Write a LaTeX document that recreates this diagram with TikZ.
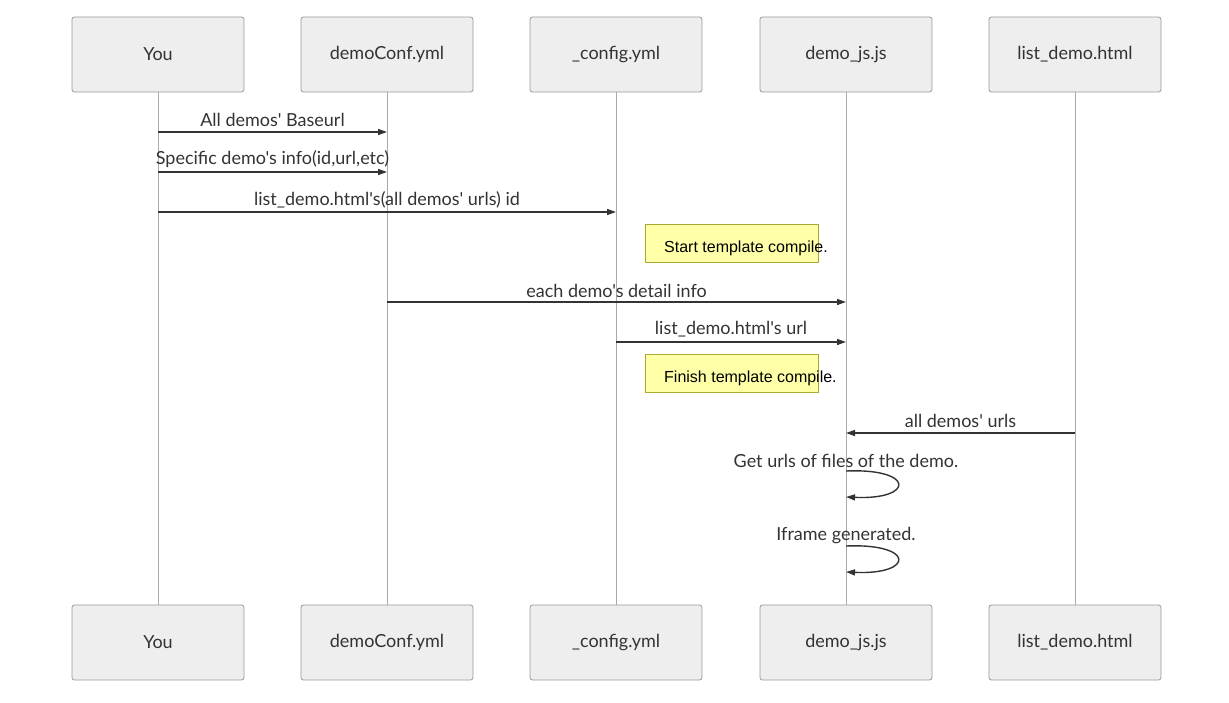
\documentclass[tikz,border=0pt]{standalone}
\usepackage{fontspec}
\setmainfont{Lato}[Ligatures=TeXOff]
\newfontfamily\notefont{Liberation Sans}
\usetikzlibrary{arrows.meta}
\definecolor{actfill}{HTML}{EEEEEE}
\definecolor{actline}{HTML}{999999}
\definecolor{lifeline}{HTML}{AAAAAA}
\definecolor{msgline}{HTML}{333333}
\definecolor{txt}{HTML}{333333}
\definecolor{notefill}{HTML}{FFFFA8}
\definecolor{noteline}{HTML}{AAAA33}
\tikzset{
  actor/.style={draw=actline, fill=actfill, rounded corners=2.5pt, line width=0.8pt,
    minimum width=172pt, minimum height=75pt, inner sep=0pt,
    font=\fontsize{18}{21}\selectfont, text=txt},
  life/.style={draw=lifeline, line width=0.9pt},
  msg/.style={draw=msgline, line width=1.4pt, -{Triangle[length=9pt,width=6pt]}},
  msglabel/.style={font=\fontsize{18}{21}\selectfont, text=txt, inner sep=0pt},
  notebox/.style={draw=noteline, fill=notefill, line width=0.8pt, minimum width=173pt,
    minimum height=38pt, inner sep=0pt},
  notetext/.style={font=\notefont\fontsize{16}{19}\selectfont, text=black, inner sep=0pt, anchor=west},
}
\begin{document}
\begin{tikzpicture}[x=1pt, y=-1pt]
\useasboundingbox (0,0) rectangle (1229,702);

% participants, top and bottom
\foreach \n/\x/\t in {you/158/You, conf/387/demoConf.yml, cfg/616/\_config.yml,
    js/846/demo\_js.js, list/1075/list\_demo.html} {
  \node[actor] (\n-top) at (\x,54.5) {\t};
  \node[actor] (\n-bot) at (\x,642.5) {\t};
}

% lifelines
\foreach \n in {you,conf,cfg,js,list}
  \draw[life] (\n-top.south) -- (\n-bot.north);

% message anchor points on the lifelines
\coordinate (m1a) at (158,132); \coordinate (m1b) at (387,132);
\coordinate (m2a) at (158,172); \coordinate (m2b) at (387,172);
\coordinate (m3a) at (158,212); \coordinate (m3b) at (616,212);
\coordinate (m4a) at (387,302); \coordinate (m4b) at (846,302);
\coordinate (m5a) at (616,342); \coordinate (m5b) at (846,342);
\coordinate (m6a) at (1075,433); \coordinate (m6b) at (846,433);
\coordinate (s1a) at (846,471); \coordinate (s1b) at (846,497);
\coordinate (s2a) at (846,546); \coordinate (s2b) at (846,572);

% messages
\draw[msg] (m1a) -- (m1b);
\node[msglabel] (l1) at (272.5,119.5) {All demos' Baseurl};
\draw[msg] (m2a) -- (m2b);
\node[msglabel] (l2) at (272.5,159.5) {Specific demo's info(id,url,etc)};
\draw[msg] (m3a) -- (m3b);
\node[msglabel] (l3) at (387,199.5) {list\_demo.html's(all demos' urls) id};

\node[notebox] (n1) at (731.5,243) {};
\node[notetext] (n1t) at (664,248) {Start template compile.};

\draw[msg] (m4a) -- (m4b);
\node[msglabel] (l4) at (616.5,290.5) {each demo's detail info};
\draw[msg] (m5a) -- (m5b);
\node[msglabel] (l5) at (731,329.5) {list\_demo.html's url};

\node[notebox] (n2) at (731.5,373) {};
\node[notetext] (n2t) at (664,378) {Finish template compile.};

\draw[msg] (m6a) -- (m6b);
\node[msglabel] (l6) at (960.5,420.5) {all demos' urls};

% self messages
\node[msglabel] (l7) at (846,460.5) {Get urls of files of the demo.};
\draw[msg] (s1a) .. controls (915,468) and (915,500) .. (s1b);
\node[msglabel] (l8) at (846,535.5) {Iframe generated.};
\draw[msg] (s2a) .. controls (915,543) and (915,575) .. (s2b);
\end{tikzpicture}
\end{document}
